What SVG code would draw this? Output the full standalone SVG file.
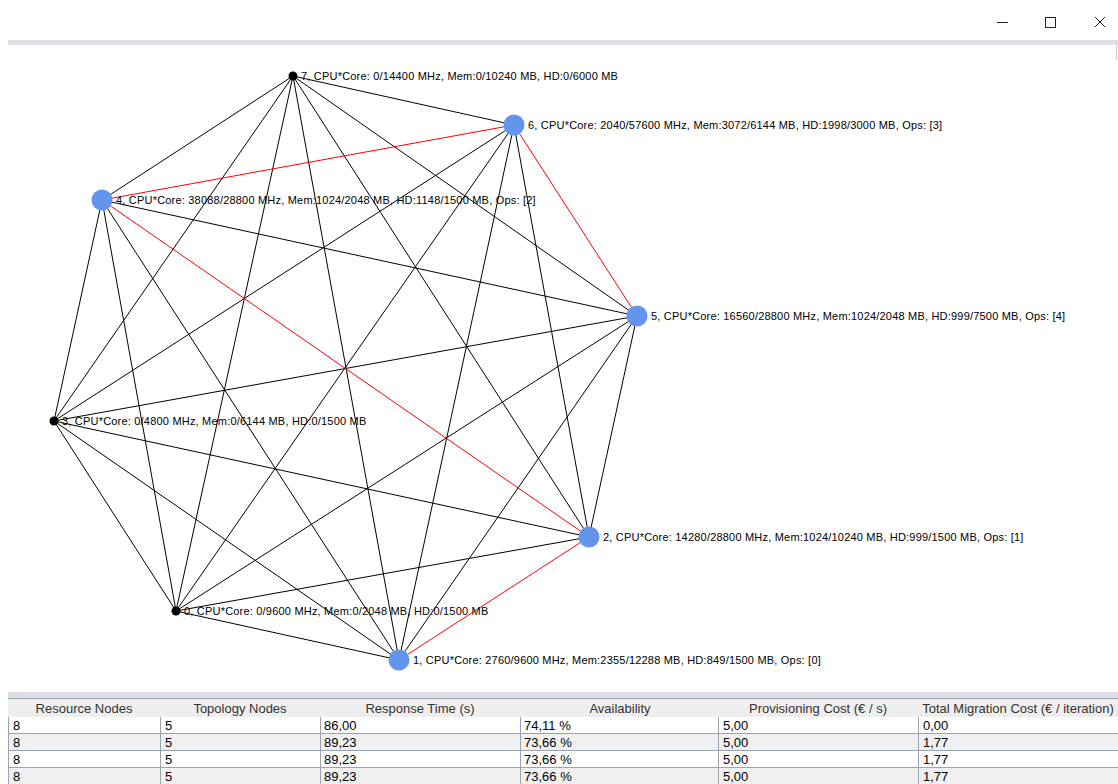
<svg xmlns="http://www.w3.org/2000/svg" width="1118" height="784" viewBox="0 0 1118 784">
  <style>
    .lbl { font-family: "Liberation Sans", Arial, sans-serif; font-size: 11px; letter-spacing: 0.2px; fill: #000; }
    .th { font-family: "Liberation Sans", Arial, sans-serif; font-size: 13px; fill: #333; text-anchor: middle; }
    .td { font-family: "Liberation Sans", Arial, sans-serif; font-size: 13px; fill: #000; }
    .e { stroke: #000; stroke-width: 1; fill: none; }
    .r { stroke: #ff0000; stroke-width: 1; fill: none; }
    .host { fill: #6495ed; }
    .free { fill: #000; }
    .grid { stroke: #9aa3b0; stroke-width: 1; }
  </style>

  <rect x="0" y="0" width="1118" height="784" fill="#ffffff"/>

  <!-- title bar controls -->
  <g id="window-controls" stroke="#222" stroke-width="1" fill="none">
    <line x1="997" y1="22.5" x2="1008" y2="22.5"/>
    <rect x="1045.5" y="17.5" width="10" height="10"/>
    <line x1="1095" y1="17" x2="1105" y2="27"/>
    <line x1="1105" y1="17" x2="1095" y2="27"/>
  </g>
  <rect x="8" y="40" width="1110" height="5" fill="#dcdfe4"/>
  <line x1="1116.5" y1="45" x2="1116.5" y2="60" stroke="#c8ccd2"/>

  <!-- links between resource nodes -->
  <g id="connectors">
    <line class="e" x1="293" y1="76" x2="514" y2="125"/>
    <line class="e" x1="293" y1="76" x2="102" y2="200"/>
    <line class="e" x1="293" y1="76" x2="637" y2="316"/>
    <line class="e" x1="293" y1="76" x2="54" y2="421"/>
    <line class="e" x1="293" y1="76" x2="589" y2="537"/>
    <line class="e" x1="293" y1="76" x2="176" y2="611"/>
    <line class="e" x1="293" y1="76" x2="399" y2="660"/>
    <line class="e" x1="514" y1="125" x2="54" y2="421"/>
    <line class="e" x1="514" y1="125" x2="589" y2="537"/>
    <line class="e" x1="514" y1="125" x2="176" y2="611"/>
    <line class="e" x1="514" y1="125" x2="399" y2="660"/>
    <line class="e" x1="102" y1="200" x2="637" y2="316"/>
    <line class="e" x1="102" y1="200" x2="54" y2="421"/>
    <line class="e" x1="102" y1="200" x2="176" y2="611"/>
    <line class="e" x1="102" y1="200" x2="399" y2="660"/>
    <line class="e" x1="637" y1="316" x2="54" y2="421"/>
    <line class="e" x1="637" y1="316" x2="589" y2="537"/>
    <line class="e" x1="637" y1="316" x2="176" y2="611"/>
    <line class="e" x1="637" y1="316" x2="399" y2="660"/>
    <line class="e" x1="54" y1="421" x2="589" y2="537"/>
    <line class="e" x1="54" y1="421" x2="176" y2="611"/>
    <line class="e" x1="54" y1="421" x2="399" y2="660"/>
    <line class="e" x1="589" y1="537" x2="176" y2="611"/>
    <line class="e" x1="176" y1="611" x2="399" y2="660"/>
    <!-- links carrying operator traffic -->
    <line class="r" x1="102" y1="200" x2="514" y2="125"/>
    <line class="r" x1="102" y1="200" x2="589" y2="537"/>
    <line class="r" x1="514" y1="125" x2="637" y2="316"/>
    <line class="r" x1="589" y1="537" x2="399" y2="660"/>
  </g>

  <g id="node-7">
    <circle class="free" cx="293" cy="76" r="4.5"/>
    <text class="lbl" x="301" y="80">7, CPU*Core: 0/14400 MHz, Mem:0/10240 MB, HD:0/6000 MB</text>
  </g>
  <g id="node-6">
    <circle class="host" cx="514" cy="125" r="10.5"/>
    <text class="lbl" x="528" y="129">6, CPU*Core: 2040/57600 MHz, Mem:3072/6144 MB, HD:1998/3000 MB, Ops: [3]</text>
  </g>
  <g id="node-4">
    <circle class="host" cx="102" cy="200" r="10.5"/>
    <text class="lbl" x="116" y="204">4, CPU*Core: 38088/28800 MHz, Mem:1024/2048 MB, HD:1148/1500 MB, Ops: [2]</text>
  </g>
  <g id="node-5">
    <circle class="host" cx="637" cy="316" r="10.5"/>
    <text class="lbl" x="651" y="320">5, CPU*Core: 16560/28800 MHz, Mem:1024/2048 MB, HD:999/7500 MB, Ops: [4]</text>
  </g>
  <g id="node-3">
    <circle class="free" cx="54" cy="421" r="4.5"/>
    <text class="lbl" x="62" y="425">3, CPU*Core: 0/4800 MHz, Mem:0/6144 MB, HD:0/1500 MB</text>
  </g>
  <g id="node-2">
    <circle class="host" cx="589" cy="537" r="10.5"/>
    <text class="lbl" x="603" y="541">2, CPU*Core: 14280/28800 MHz, Mem:1024/10240 MB, HD:999/1500 MB, Ops: [1]</text>
  </g>
  <g id="node-0">
    <circle class="free" cx="176" cy="611" r="4.5"/>
    <text class="lbl" x="184" y="615">0, CPU*Core: 0/9600 MHz, Mem:0/2048 MB, HD:0/1500 MB</text>
  </g>
  <g id="node-1">
    <circle class="host" cx="399" cy="660" r="10.5"/>
    <text class="lbl" x="413" y="664">1, CPU*Core: 2760/9600 MHz, Mem:2355/12288 MB, HD:849/1500 MB, Ops: [0]</text>
  </g>

  <!-- results table -->
  <g id="results-table">
    <rect x="8" y="692" width="1110" height="6" fill="#dcdfe4"/>
    <rect x="8" y="698" width="1110" height="19" fill="#eeeeee"/>
    <line x1="8" y1="698.5" x2="1118" y2="698.5" stroke="#9aa3b0"/>
    <rect x="8" y="717" width="1110" height="17" fill="#ffffff"/>
    <rect x="8" y="734" width="1110" height="17" fill="#f0f0f0"/>
    <rect x="8" y="751" width="1110" height="17" fill="#ffffff"/>
    <rect x="8" y="768" width="1110" height="16" fill="#f0f0f0"/>
    <line class="grid" x1="8" y1="733.5" x2="1118" y2="733.5"/>
    <line class="grid" x1="8" y1="750.5" x2="1118" y2="750.5"/>
    <line class="grid" x1="8" y1="767.5" x2="1118" y2="767.5"/>
    <line class="grid" x1="8.5" y1="717" x2="8.5" y2="784"/>
    <line class="grid" x1="160.5" y1="717" x2="160.5" y2="784"/>
    <line class="grid" x1="320.5" y1="717" x2="320.5" y2="784"/>
    <line class="grid" x1="520.5" y1="717" x2="520.5" y2="784"/>
    <line class="grid" x1="718.5" y1="717" x2="718.5" y2="784"/>
    <line class="grid" x1="918.5" y1="717" x2="918.5" y2="784"/>

    <text class="th" x="84" y="713">Resource Nodes</text>
    <text class="th" x="240" y="713">Topology Nodes</text>
    <text class="th" x="420" y="713">Response Time (s)</text>
    <text class="th" x="620" y="713">Availability</text>
    <text class="th" x="818" y="713">Provisioning Cost (€ / s)</text>
    <text class="th" x="1018" y="713">Total Migration Cost (€ / iteration)</text>

    <text class="td" x="13" y="730">8</text>
    <text class="td" x="165" y="730">5</text>
    <text class="td" x="324" y="730">86,00</text>
    <text class="td" x="524" y="730">74,11 %</text>
    <text class="td" x="723" y="730">5,00</text>
    <text class="td" x="923" y="730">0,00</text>

    <text class="td" x="13" y="747">8</text>
    <text class="td" x="165" y="747">5</text>
    <text class="td" x="324" y="747">89,23</text>
    <text class="td" x="524" y="747">73,66 %</text>
    <text class="td" x="723" y="747">5,00</text>
    <text class="td" x="923" y="747">1,77</text>

    <text class="td" x="13" y="764">8</text>
    <text class="td" x="165" y="764">5</text>
    <text class="td" x="324" y="764">89,23</text>
    <text class="td" x="524" y="764">73,66 %</text>
    <text class="td" x="723" y="764">5,00</text>
    <text class="td" x="923" y="764">1,77</text>

    <text class="td" x="13" y="781">8</text>
    <text class="td" x="165" y="781">5</text>
    <text class="td" x="324" y="781">89,23</text>
    <text class="td" x="524" y="781">73,66 %</text>
    <text class="td" x="723" y="781">5,00</text>
    <text class="td" x="923" y="781">1,77</text>
  </g>
</svg>
